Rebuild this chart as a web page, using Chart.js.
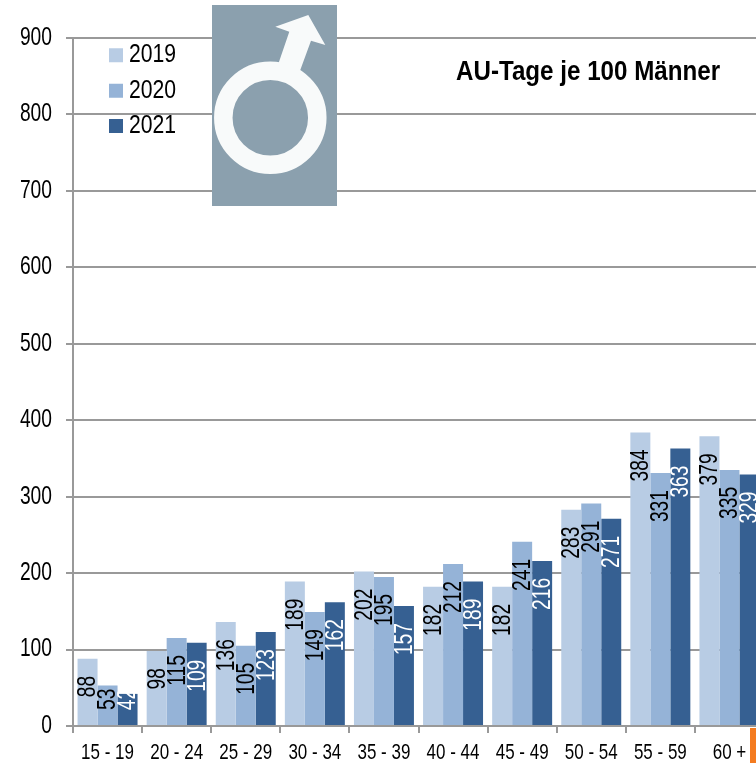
<!DOCTYPE html>
<html><head><meta charset="utf-8">
<style>html,body{margin:0;padding:0;background:#fff;width:756px;height:763px;overflow:hidden}canvas{display:block}</style>
<script src="https://cdn.jsdelivr.net/npm/chart.js@4"></script>
</head><body><canvas id="c" width="800" height="763"></canvas>
<script>
const categories = ['15 - 19','20 - 24','25 - 29','30 - 34','35 - 39','40 - 44','45 - 49','50 - 54','55 - 59','60 +'];
const seriesNames = ['2019','2020','2021'];
const values2019 = [88,98,136,189,202,182,182,283,384,379];
const values2020 = [53,115,105,149,195,212,241,291,331,335];
const values2021 = [42,109,123,162,157,189,216,271,363,329];
const colors = ['#b8cce4','#95b3d7','#366092'];
const labelColors = ['#000','#000','#fff'];
const titleText = 'AU-Tage je 100 Männer';
const fontFamily = '"Liberation Sans",sans-serif';
const grey = '#999999';

// The reference uses condensed lettering: squeeze text horizontally around its anchor.
const canvas = document.getElementById('c');
const ctx0 = canvas.getContext('2d');
const squeezeBySize = {25.5:0.83, 25:0.77, 21.5:0.79, 27:0.895};
const rawFillText = ctx0.fillText.bind(ctx0);
ctx0.fillText = function(t,x,y){
  const m = /([\d.]+)px/.exec(ctx0.font);
  const k = (m && squeezeBySize[parseFloat(m[1])]) || 1;
  ctx0.save(); ctx0.translate(x,y); ctx0.scale(k,1);
  rawFillText(t,0,0);
  ctx0.restore();
};

const placeLegend = {id:'placeLegend', beforeDraw(chart){
  const l = chart.legend; const p = l.options.labels.padding;
  l.left = 109 - p; l.right = 176; l.top = 42.5 - p; l.bottom = 200;
}};
const barLabels = {id:'barLabels', afterDatasetsDraw(chart){
  const ctx = chart.ctx;
  chart.data.datasets.forEach((ds,si)=>{
    chart.getDatasetMeta(si).data.forEach((el,i)=>{
      let gap = 17;
      if(i===0 && si===1) gap = 3;
      if(i===0 && si===2) gap = -5;
      ctx.save();
      ctx.translate(el.x, el.y + gap);
      ctx.rotate(-Math.PI/2);
      ctx.font = '25px '+fontFamily;
      ctx.textAlign = 'right';
      ctx.textBaseline = 'middle';
      ctx.fillStyle = labelColors[si];
      ctx.fillText(String(ds.data[i]),0,1);
      ctx.restore();
    });
  });
}};
const decor = {id:'decor', afterDraw(chart){
  const ctx = chart.ctx;
  ctx.save();
  ctx.fillStyle = '#8ba0ae';
  ctx.fillRect(212,5,125,201);
  ctx.strokeStyle = '#f8fafa'; ctx.lineWidth = 18.5;
  ctx.beginPath(); ctx.arc(270.3,117.7,47,0,Math.PI*2); ctx.stroke();
  ctx.fillStyle = '#f8fafa';
  ctx.beginPath();
  [[278.7,62.7],[289.3,31.7],[275.3,26.7],[308.3,15],[325.3,45],[311,40.7],[300,70.7]].forEach((p,i)=> i?ctx.lineTo(p[0],p[1]):ctx.moveTo(p[0],p[1]));
  ctx.closePath(); ctx.fill();
  ctx.fillStyle = '#f47b20';
  ctx.fillRect(750,728,10,35);
  ctx.fillStyle = '#000';
  ctx.font = 'bold 27px '+fontFamily;
  ctx.textAlign = 'left'; ctx.textBaseline = 'alphabetic';
  ctx.fillText(titleText,456,80);
  ctx.restore();
}};

new Chart(canvas,{
  type:'bar',
  data:{labels:categories,datasets:[values2019,values2020,values2021].map((d,i)=>({
    label:seriesNames[i],data:d,backgroundColor:colors[i],borderWidth:0,
    barPercentage:1,categoryPercentage:0.868}))},
  plugins:[placeLegend,barLabels,decor],
  options:{
    responsive:false,animation:false,
    layout:{padding:{top:38,right:36,left:0,bottom:0},autoPadding:false},
    scales:{
      x:{offset:true,
        afterFit(s){s.height=37;},
        grid:{drawOnChartArea:false,drawTicks:true,tickLength:7,color:grey,lineWidth:2,offset:true},
        border:{color:grey,width:2},
        ticks:{color:'#000',font:{family:fontFamily,size:21.5},padding:7,maxRotation:0,autoSkip:false}},
      y:{min:0,max:900,
        afterFit(s){s.width=73;},
        grid:{color:grey,lineWidth:2,tickLength:7},
        border:{color:grey,width:2},
        ticks:{stepSize:100,color:'#000',font:{family:fontFamily,size:25},padding:14}}
    },
    plugins:{
      tooltip:{enabled:false},
      title:{display:false},
      legend:{display:true,position:'chartArea',align:'start',
        labels:{boxWidth:14,boxHeight:14,padding:9.9,textAlign:'right',color:'#000',font:{family:fontFamily,size:25.5}}}
    }
  }
});
</script></body></html>
